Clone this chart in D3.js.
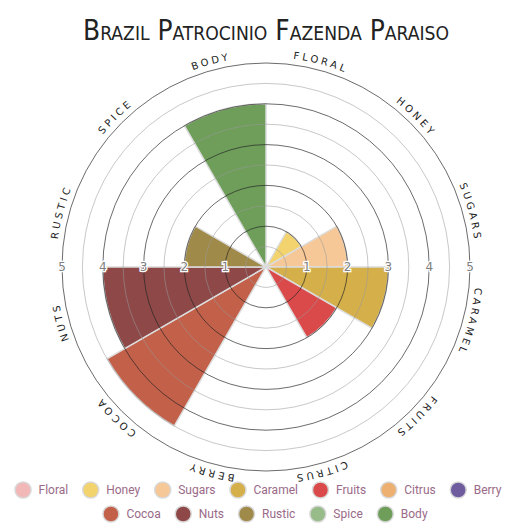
<!DOCTYPE html>
<html>
<head>
<meta charset="utf-8">
<script src="https://cdn.jsdelivr.net/npm/d3@7"></script>
<style>
  body { margin: 0; background: #fff; }
  svg { display: block; }
</style>
</head>
<body>
<div id="chart"></div>
<script>
// Flavour wheel (polar area)
var categories = ["Floral", "Honey", "Sugars", "Caramel", "Fruits", "Citrus", "Berry",
                  "Cocoa", "Nuts", "Rustic", "Spice", "Body"];
var values = [0, 1, 2, 3, 2, 0, 0, 4.5, 4, 2, 0, 4];
var colors = ["#f2b8b8", "#f2d36e", "#f7c897", "#d4af4a", "#db4a4a", "#edb070", "#6e5c9e",
              "#c2604a", "#8e4848", "#a08a4a", "#98bb8a", "#6e9e5a"];
var tickValues = [1, 2, 3, 4, 5];
var gridValues = [0.5, 1, 1.5, 2, 2.5, 3, 3.5, 4, 4.5, 5];
var title = "Brazil Patrocinio Fazenda Paraiso";

var width = 531, height = 531;
var cx = 266, cy = 267;

var svg = d3.select("#chart").append("svg")
    .attr("width", width)
    .attr("height", height);

var r = d3.scaleLinear().domain([0, 5]).range([0, 204]);
var angle = d3.scaleBand().domain(categories).range([0, 2 * Math.PI]).padding(0);

var g = svg.append("g")
    .attr("transform", "translate(" + cx + "," + cy + ")");

// Title
svg.append("text")
    .attr("x", cx)
    .attr("y", 40)
    .attr("text-anchor", "middle")
    .style("font-family", "'Liberation Sans Narrow', 'DejaVu Sans Condensed', sans-serif")
    .style("font-variant", "small-caps")
    .style("font-size", "29px")
    .style("fill", "#222")
    .attr("textLength", 366)
    .attr("lengthAdjust", "spacingAndGlyphs")
    .text(title);

// Wedges
var arc = d3.arc()
    .innerRadius(0)
    .outerRadius(function(d) { return r(d.value); })
    .startAngle(function(d) { return angle(d.cat); })
    .endAngle(function(d) { return angle(d.cat) + angle.bandwidth(); });

var data = categories.map(function(c, i) { return { cat: c, value: values[i], color: colors[i] }; });

g.selectAll(".wedge")
  .data(data.filter(function(d) { return d.value > 0; }))
  .enter().append("path")
    .attr("class", "wedge")
    .attr("d", arc)
    .style("fill", function(d) { return d.color; })
    .style("stroke", "#dcdcdc")
    .style("stroke-width", 1.5);

// Grid rings
g.selectAll(".ring")
  .data(gridValues)
  .enter().append("circle")
    .attr("class", "ring")
    .attr("r", function(d) { return r(d); })
    .style("fill", "none")
    .style("stroke", function(d) { return d % 1 === 0 ? "#222" : "#999"; })
    .style("stroke-opacity", function(d) { return d % 1 === 0 ? 0.75 : 0.6; })
    .style("stroke-width", 0.9);

// Tick labels on both sides
var ticks = [];
tickValues.forEach(function(t) { ticks.push({ v: t, s: 1 }); ticks.push({ v: t, s: -1 }); });
g.selectAll(".tick")
  .data(ticks)
  .enter().append("text")
    .attr("class", "tick")
    .attr("x", function(d) { return d.s * r(d.v); })
    .attr("y", 0)
    .attr("dy", "0.36em")
    .attr("text-anchor", "middle")
    .style("font-family", "'DejaVu Sans', sans-serif")
    .style("font-size", "12px")
    .style("fill", "#808080")
    .style("stroke", "#fff")
    .style("stroke-width", 2.5)
    .style("paint-order", "stroke")
    .text(function(d) { return d.v; });

// Category labels along the rim
var labelR = 210;
var defs = svg.append("defs");
data.forEach(function(d, i) {
  var a0 = angle(d.cat) - Math.PI / 2, a1 = a0 + angle.bandwidth();
  var p = d3.path();
  p.arc(0, 0, labelR, a0, a1, false);
  defs.append("path").attr("id", "lbl" + i).attr("d", p.toString());
});

g.selectAll(".cat")
  .data(data)
  .enter().append("text")
    .attr("class", "cat")
    .style("font-family", "'DejaVu Sans', sans-serif")
    .style("font-size", "10px")
    .style("letter-spacing", "3px")
    .style("fill", "#222")
  .append("textPath")
    .attr("href", function(d, i) { return "#lbl" + i; })
    .attr("startOffset", "50%")
    .attr("text-anchor", "middle")
    .text(function(d) { return d.cat.toUpperCase(); });

// Legend
var rows = [categories.slice(0, 7), categories.slice(7)];
var rowY = [490, 514];
var legendFont = "12px Roboto, sans-serif";
var measure = svg.append("text").style("font", legendFont);

rows.forEach(function(row, ri) {
  var items = row.map(function(c) {
    measure.text(c);
    return { cat: c, w: measure.node().getComputedTextLength() };
  });
  var itemW = items.map(function(it) { return 17 + 7 + it.w; });
  var gap = 14;
  var total = d3.sum(itemW) + gap * (items.length - 1);
  var x0 = (ri === 0 ? 258 : 265) - total / 2;

  var lg = svg.append("g").attr("class", "legend");
  var x = x0;
  items.forEach(function(it, k) {
    var ci = categories.indexOf(it.cat);
    lg.append("circle")
        .attr("cx", x + 8.5)
        .attr("cy", rowY[ri])
        .attr("r", 8)
        .style("fill", colors[ci])
        .style("stroke", "#d8d8d8")
        .style("stroke-width", 1.5);
    lg.append("text")
        .attr("x", x + 17 + 7)
        .attr("y", rowY[ri])
        .attr("dy", "0.35em")
        .style("font", legendFont)
        .style("fill", "#9a6a88")
        .text(it.cat);
    x += itemW[k] + gap;
  });
});
measure.remove();
</script>
</body>
</html>
